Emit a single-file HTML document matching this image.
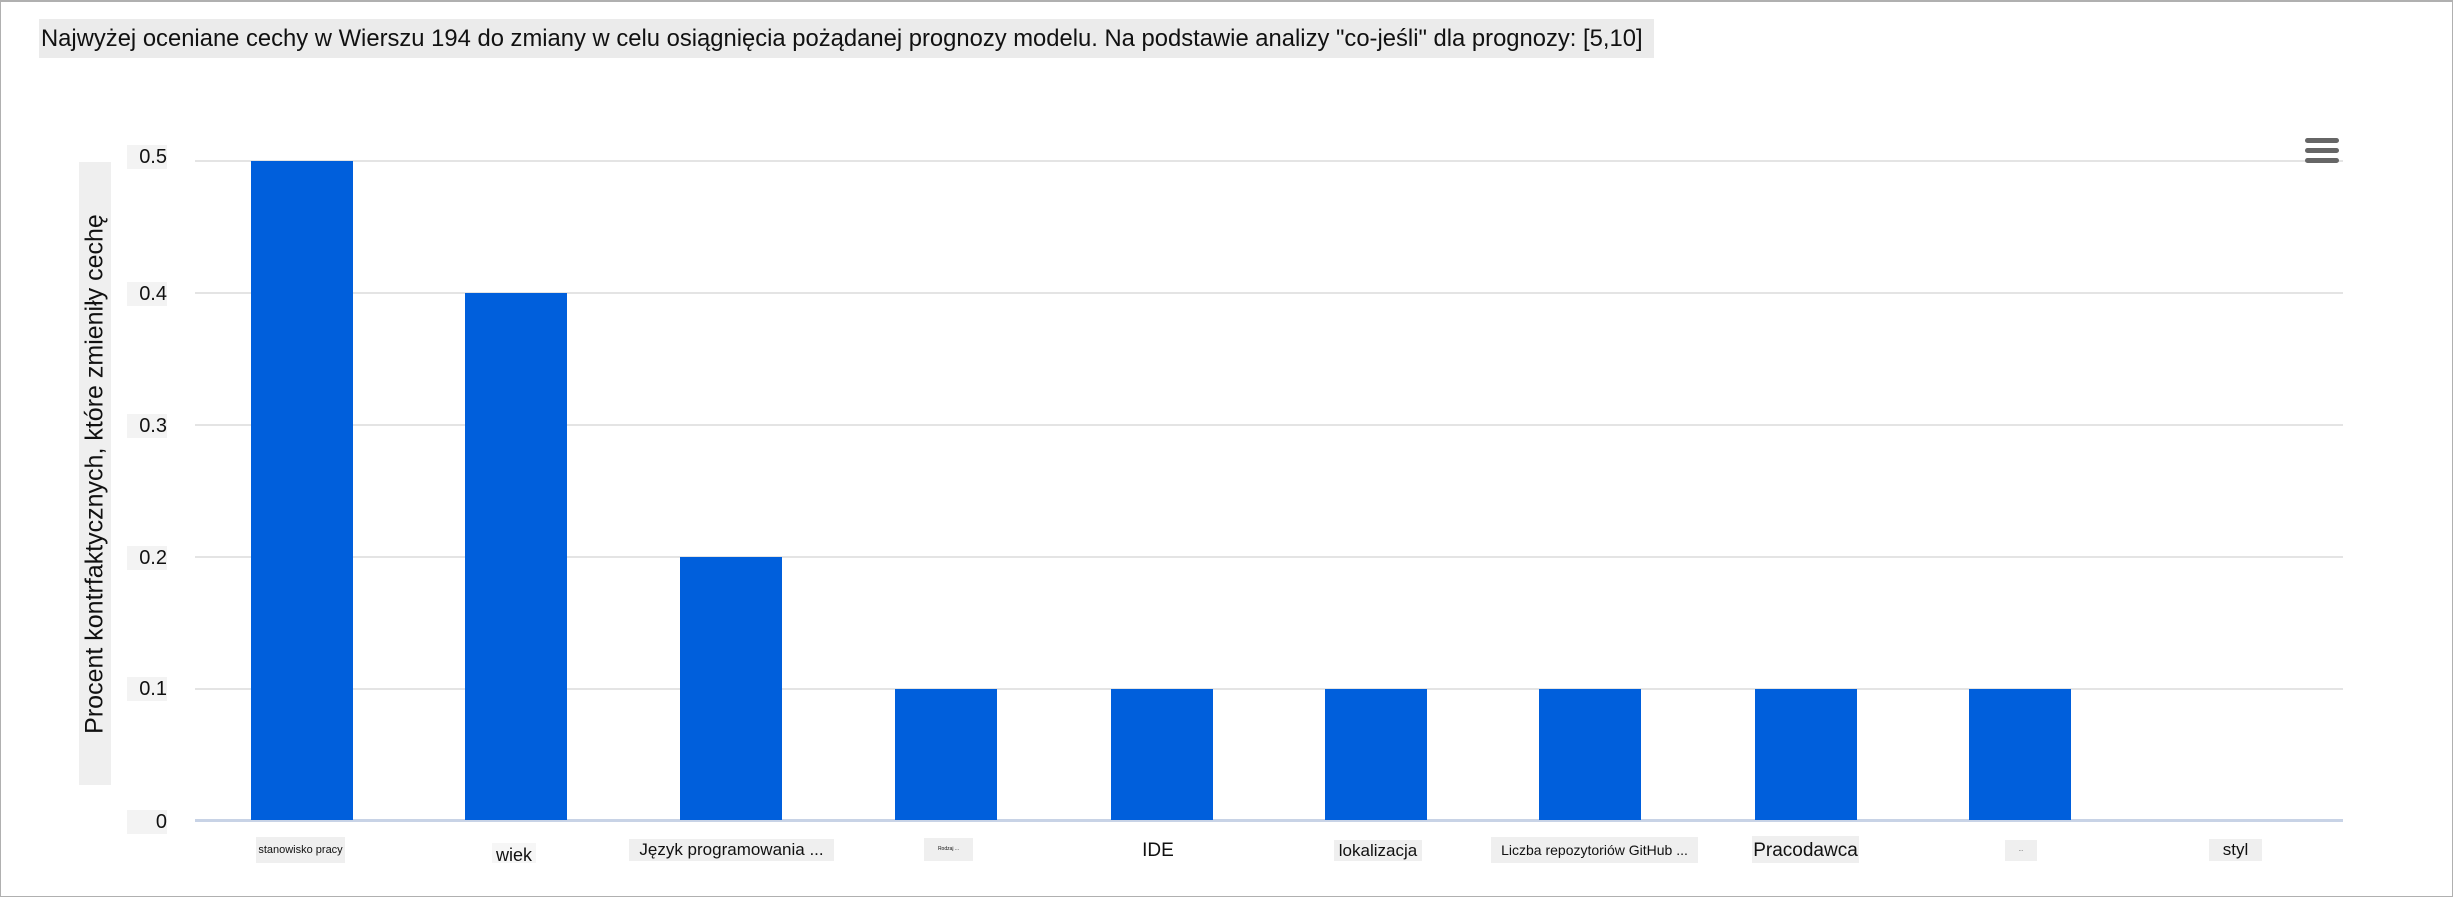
<!DOCTYPE html>
<html><head><meta charset="utf-8"><style>
html,body{margin:0;padding:0;background:#fff;}
body{width:2453px;height:896px;position:relative;overflow:hidden;font-family:"Liberation Sans","DejaVu Sans",sans-serif;}
.frame{position:absolute;left:0;top:0;width:2451px;height:894px;border:1px solid #b0b0b0;border-top:2px solid #b0b0b0;}
.title{position:absolute;left:39px;top:19px;width:1615px;height:39px;background:#ebebeb;font-size:23.8px;line-height:39px;color:#111;white-space:nowrap;padding-left:2px;box-sizing:border-box;}
.yt{position:absolute;left:79px;top:162px;width:32px;height:623px;background:#efefef;}
.yt span{position:absolute;left:50%;top:50%;transform:translate(-50%,-50%) rotate(-90deg);white-space:nowrap;font-size:25px;color:#111;}
.tick{position:absolute;font-size:20px;color:#111;background:#f3f3f3;text-align:right;width:40px;height:24px;line-height:24px;}
.grid{position:absolute;left:195px;width:2148px;height:2px;background:#e4e4e4;}
.bar{position:absolute;width:102px;background:#005fdc;}
.lab{position:absolute;background:#efefef;color:#111;white-space:nowrap;text-align:center;}
.menu{position:absolute;left:2305px;width:34px;height:5px;border-radius:3px;background:#666;}
</style></head><body>
<div class="frame"></div>
<div class="title">Najwyżej oceniane cechy w Wierszu 194 do zmiany w celu osiągnięcia pożądanej prognozy modelu. Na podstawie analizy "co-jeśli" dla prognozy: [5,10]</div>
<div class="yt"><span>Procent kontrfaktycznych, które zmieniły cechę</span></div>
<div class="tick" style="left:127px;top:145px">0.5</div>
<div class="tick" style="left:127px;top:282px">0.4</div>
<div class="tick" style="left:127px;top:414px">0.3</div>
<div class="tick" style="left:127px;top:546px">0.2</div>
<div class="tick" style="left:127px;top:677px">0.1</div>
<div class="tick" style="left:127px;top:810px">0</div>
<div class="grid" style="top:160px"></div>
<div class="grid" style="top:292px"></div>
<div class="grid" style="top:424px"></div>
<div class="grid" style="top:556px"></div>
<div class="grid" style="top:688px"></div>
<div class="grid" style="top:819px;height:3px;background:#c8d3e6"></div>
<div class="bar" style="left:251px;top:161px;height:659px"></div>
<div class="bar" style="left:465px;top:293px;height:527px"></div>
<div class="bar" style="left:680px;top:557px;height:263px"></div>
<div class="bar" style="left:895px;top:689px;height:131px"></div>
<div class="bar" style="left:1111px;top:689px;height:131px"></div>
<div class="bar" style="left:1325px;top:689px;height:131px"></div>
<div class="bar" style="left:1539px;top:689px;height:131px"></div>
<div class="bar" style="left:1755px;top:689px;height:131px"></div>
<div class="bar" style="left:1969px;top:689px;height:131px"></div>
<div class="lab" style="left:256px;top:837px;width:89px;height:26px;font-size:11px;line-height:26px">stanowisko pracy</div>
<div class="lab" style="left:492px;top:843px;width:44px;height:20px;font-size:18px;line-height:24px;background:#f6f6f6">wiek</div>
<div class="lab" style="left:629px;top:839px;width:205px;height:22px;font-size:17px;line-height:22px">Język programowania ...</div>
<div class="lab" style="left:924px;top:838px;width:49px;height:23px;font-size:5px;line-height:23px">Rodzaj ...</div>
<div class="lab" style="left:1138px;top:840px;width:40px;height:22px;font-size:19px;line-height:22px;background:#fff">IDE</div>
<div class="lab" style="left:1334px;top:840px;width:88px;height:21px;font-size:17px;line-height:21px">lokalizacja</div>
<div class="lab" style="left:1491px;top:837px;width:207px;height:26px;font-size:14px;line-height:26px">Liczba repozytoriów GitHub ...</div>
<div class="lab" style="left:1752px;top:836px;width:107px;height:27px;font-size:19px;line-height:30px">Pracodawca</div>
<div class="lab" style="left:2005px;top:840px;width:32px;height:21px;font-size:5px;line-height:21px">...</div>
<div class="lab" style="left:2209px;top:839px;width:53px;height:22px;font-size:17px;line-height:22px">styl</div>
<div class="menu" style="top:138px"></div>
<div class="menu" style="top:148px"></div>
<div class="menu" style="top:158px"></div>
</body></html>
